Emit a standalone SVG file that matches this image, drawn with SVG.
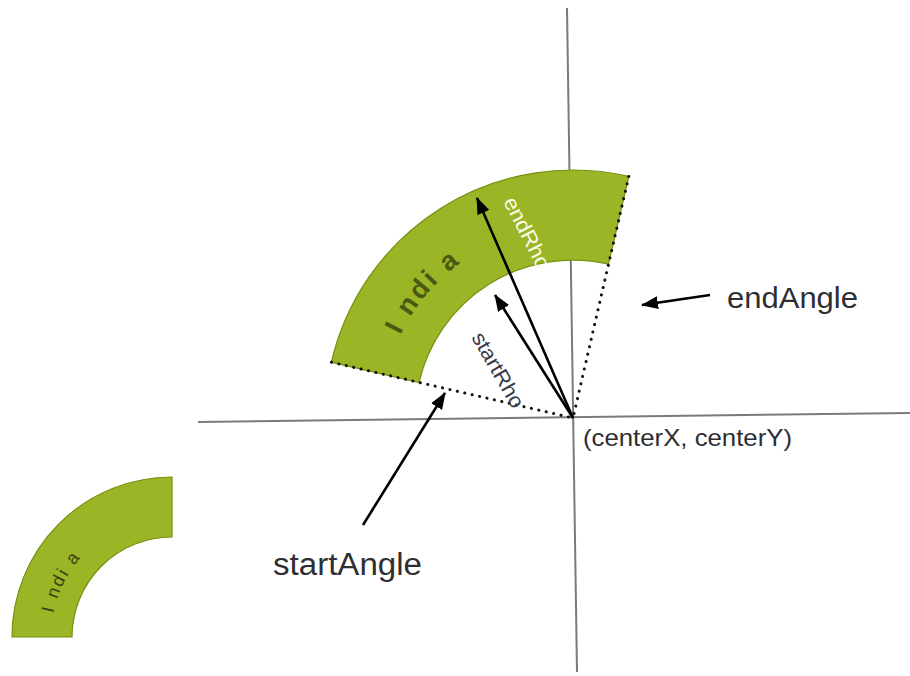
<svg xmlns="http://www.w3.org/2000/svg" width="910" height="676" viewBox="0 0 910 676">
  <style>
    .ring { fill: #9ab526; stroke: #76900f; stroke-width: 1.2; }
    .axis { stroke: #7a7a7a; stroke-width: 2; fill: none; }
    .dot { stroke: #111; stroke-width: 3; stroke-dasharray: 0.1 7.5; stroke-linecap: round; fill: none; }
    .arr { stroke: #000; stroke-width: 2.6; fill: none; marker-end: url(#ah); }
    .lbl { font-family: "Liberation Sans", Arial, sans-serif; fill: #2e2e33; }
  </style>
  <defs>
    <marker id="ah" markerUnits="userSpaceOnUse" markerWidth="20" markerHeight="14" refX="16" refY="6.5" orient="auto">
      <path d="M0,0 L17,6.5 L0,13 z" fill="#000"/>
    </marker>
    <path id="arcMain" d="M392.6,353.3 A192,192 0 0 1 622.7,232.5" fill="none"/>
    <path id="arcSmall" d="M51,637 A121,121 0 0 1 193,517.8" fill="none"/>
  </defs>
  <rect width="910" height="676" fill="#fff"/>

  <g id="axes">
    <line class="axis" x1="567" y1="8" x2="577" y2="672"/>
    <line class="axis" x1="198" y1="422" x2="910" y2="413"/>
  </g>

  <g id="ring-main">
    <path class="ring" d="M331.4,362.2 A248,248 0 0 1 628.8,176.4 L608.5,264.1 A158,158 0 0 0 419,382.5 Z"/>
    <text class="lbl" font-size="27" font-weight="bold" style="fill:#4a5812"><textPath href="#arcMain" startOffset="20" textLength="94" lengthAdjust="spacing">I ndi a</textPath></text>
  </g>

  <g id="ring-small">
    <path class="ring" d="M12,637 A160,160 0 0 1 172,477 L172,537 A100,100 0 0 0 72,637 Z"/>
    <text class="lbl" font-size="18" style="fill:#3a4212"><textPath href="#arcSmall" startOffset="24" textLength="62" lengthAdjust="spacing">I ndi a</textPath></text>
  </g>

  <g id="connectors">
    <line class="dot" x1="331.4" y1="362.2" x2="573" y2="418"/>
    <line class="dot" x1="628.8" y1="176.4" x2="573" y2="418"/>
    <line class="arr" x1="573" y1="418" x2="477" y2="198"/>
    <line class="arr" x1="573" y1="418" x2="495" y2="295"/>
    <line class="arr" x1="710" y1="295" x2="642" y2="305"/>
    <line class="arr" x1="363" y1="525" x2="445" y2="393"/>
  </g>

  <g id="label-endRho">
    <text class="lbl" x="0" y="0" transform="translate(527,233) rotate(63)" text-anchor="middle" dy="7" font-size="21" style="fill:#fbfbe8" textLength="78" lengthAdjust="spacingAndGlyphs">endRho</text>
  </g>
  <g id="label-startRho">
    <text class="lbl" x="0" y="0" transform="translate(498,370) rotate(60)" text-anchor="middle" dy="7" font-size="21" style="fill:#3a3a48" textLength="84" lengthAdjust="spacingAndGlyphs">startRho</text>
  </g>
  <g id="label-endAngle">
    <text class="lbl" x="727" y="308" font-size="30" textLength="131" lengthAdjust="spacingAndGlyphs">endAngle</text>
  </g>
  <g id="label-startAngle">
    <text class="lbl" x="273" y="575" font-size="31" textLength="149" lengthAdjust="spacingAndGlyphs">startAngle</text>
  </g>
  <g id="label-center">
    <text class="lbl" x="583" y="446" font-size="24" textLength="209" lengthAdjust="spacingAndGlyphs">(centerX, centerY)</text>
  </g>
</svg>
